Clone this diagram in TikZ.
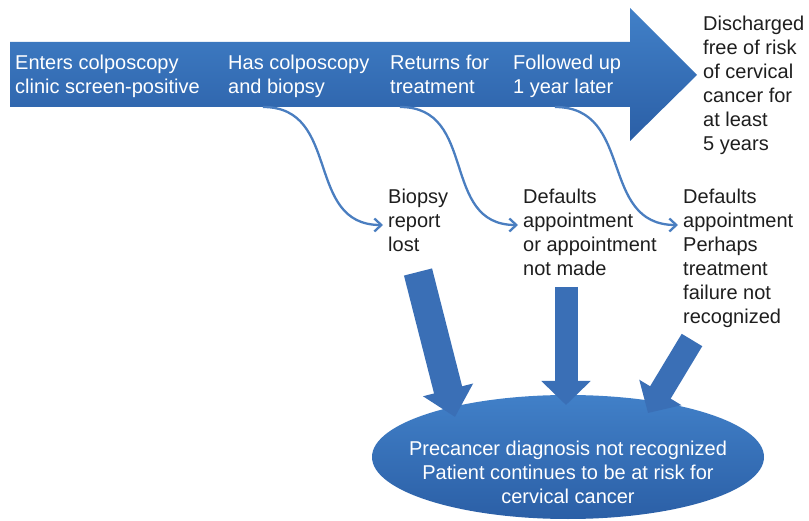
\documentclass[tikz,border=0pt]{standalone}
\usepackage{fontspec}
\setmainfont{Liberation Sans}
\usetikzlibrary{shapes.geometric,arrows.meta}
\definecolor{bartop}{HTML}{4180C8}
\definecolor{barbot}{HTML}{2B5FA6}
\definecolor{fatblue}{HTML}{3A6FB6}
\definecolor{curveblue}{HTML}{4A7EC0}
\definecolor{textgray}{HTML}{1E1E1E}
\begin{document}
\begin{tikzpicture}[x=1pt,y=-1pt,font=\fontsize{20}{24}\selectfont]
 \tikzstyle{t} = [inner sep=0pt, align=left, anchor=north west, text=textgray]
 \tikzstyle{w} = [t, text=white]
    \tikzstyle{c} = [draw=curveblue, line width=2.3pt, -{Straight Barb[length=7pt,width=13pt]}]
    \tikzstyle{f} = [draw=fatblue, -{Triangle[length=28pt,width=50pt]}]
    \useasboundingbox (0,0) rectangle (809,521);
    %% timeline
    \shade[top color=bartop, bottom color=barbot] (10,42) -- (630,42) -- (630,8) -- (697,75)
        -- (630,141) -- (630,107) -- (10,107) -- cycle;
    \coordinate (s1) at (263,107);
    \coordinate (s2) at (400,107);
    \coordinate (s3) at (555,107);

        \node[w] (enter) at (15,55) {Enters colposcopy\\clinic screen-positive};
        \node[w] (has) at (228,55) {Has colposcopy\\and biopsy};
        \node[w] (ret) at (390,55) {Returns for\\treatment};
        \node[w] (fol) at (513,55) {Followed up\\1 year later};
        \node[t] (dis) at (703,16) {Discharged\\free of risk\\of cervical\\cancer for\\at least\\5 years};

        \node[t] (lost) at (388,189) {Biopsy\\report\\lost};
        \node[t] (appt) at (523,189) {Defaults\\appointment\\or appointment\\not made};
        \node[t] (fail) at (683,189) {Defaults\\appointment\\Perhaps\\treatment\\failure not\\recognized};

        \draw[c] (s1) to[out=0,in=180,looseness=1.2] ([shift={(-5pt,-36pt)}]lost.north west);
        \draw[c] (s2) to[out=0,in=180,looseness=1.2] ([shift={(-5pt,-36pt)}]appt.north west);
        \draw[c] (s3) to[out=0,in=180,looseness=1.2] ([shift={(-5pt,-36pt)}]fail.north west);
    %%
        \node[ellipse, top color=bartop, bottom color=barbot, minimum width=392pt, minimum height=124pt] (diag) at (568,457) {};
        \node[inner sep=0pt, align=center, text=white] (diagtxt) at (568,472) {Precancer diagnosis not recognized\\Patient continues to be at risk for\\cervical cancer};

        \coordinate (d1) at (418,272); \coordinate (e1) at (455,417);
        \coordinate (d2) at (566,287); \coordinate (e2) at (566,405);
        \coordinate (d3) at (692,340); \coordinate (e3) at (648,413);
        \draw[f, line width=29pt] (d1) -- (e1);
        \draw[f, line width=23pt, -{Triangle[length=24pt,width=48pt]}] (d2) -- (e2);
        \draw[f, line width=24pt, -{Triangle[length=24pt,width=48pt]}] (d3) -- (e3);
    \end{tikzpicture}
\end{document}
